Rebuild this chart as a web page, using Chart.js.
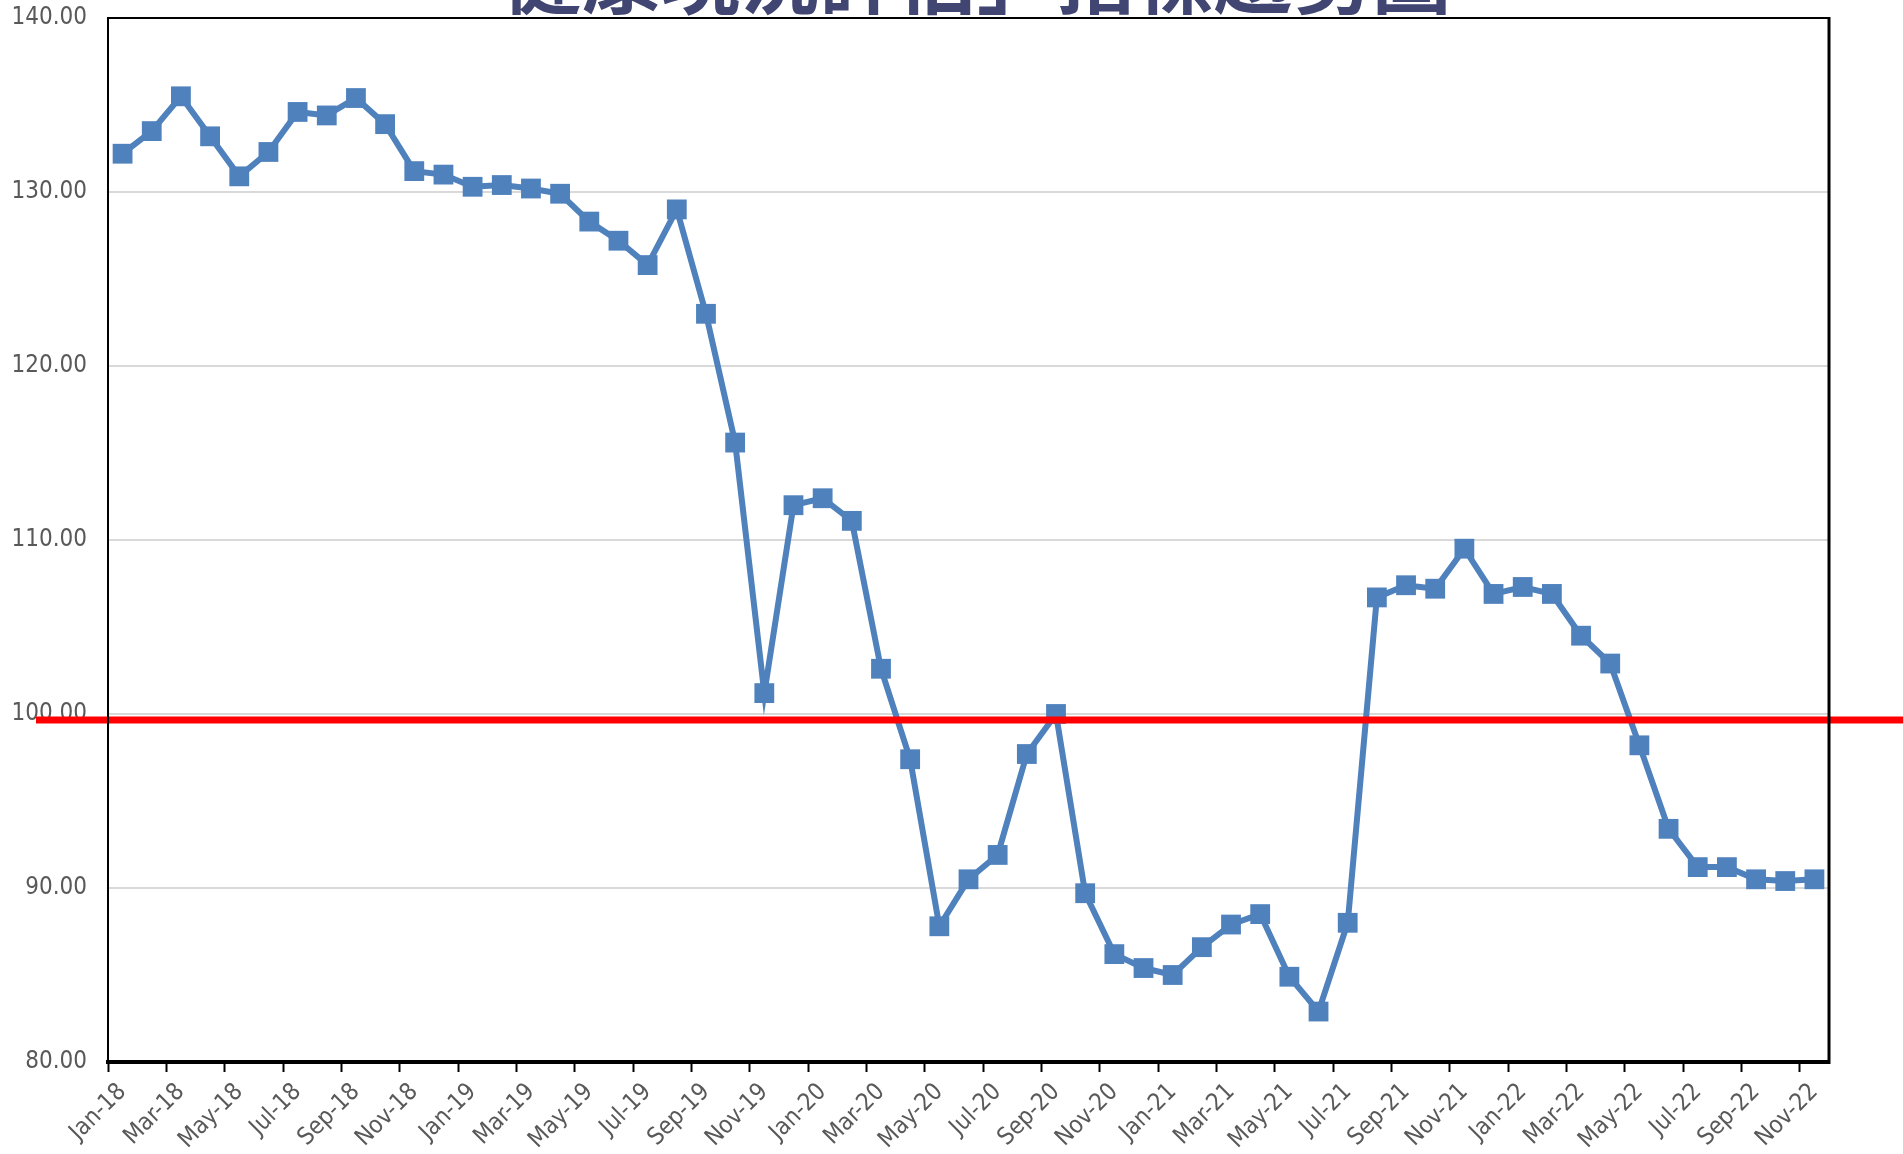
<!DOCTYPE html>
<html>
<head>
<meta charset="utf-8">
<script src="https://cdn.jsdelivr.net/npm/chart.js@4.4.1/dist/chart.umd.min.js"></script>
<style>
  html, body { margin: 0; padding: 0; background: #ffffff; overflow: hidden; }
  #wrap { position: relative; width: 1903px; height: 1154px; }
  #c { position: absolute; left: 0; top: 0; }
  #title {
    position: absolute; left: 0; width: 1875px; top: -66px;
    text-align: center; white-space: nowrap;
    font-family: "Noto Sans CJK TC", "Noto Sans CJK SC", sans-serif;
    font-weight: 700; font-size: 79px; line-height: 79px; color: #404571;
  }
</style>
</head>
<body>
<div id="wrap">
  <canvas id="c" width="1903" height="1154"></canvas>
  <div id="title"></div>
</div>
<script>
const titleText = '「健康現況評估」指標趨勢圖';
const months = [
  'Jan-18','Feb-18','Mar-18','Apr-18','May-18','Jun-18','Jul-18','Aug-18','Sep-18','Oct-18','Nov-18','Dec-18',
  'Jan-19','Feb-19','Mar-19','Apr-19','May-19','Jun-19','Jul-19','Aug-19','Sep-19','Oct-19','Nov-19','Dec-19',
  'Jan-20','Feb-20','Mar-20','Apr-20','May-20','Jun-20','Jul-20','Aug-20','Sep-20','Oct-20','Nov-20','Dec-20',
  'Jan-21','Feb-21','Mar-21','Apr-21','May-21','Jun-21','Jul-21','Aug-21','Sep-21','Oct-21','Nov-21','Dec-21',
  'Jan-22','Feb-22','Mar-22','Apr-22','May-22','Jun-22','Jul-22','Aug-22','Sep-22','Oct-22','Nov-22'
];
const indexValues = [
  132.2, 133.5, 135.5, 133.2, 130.9, 132.3, 134.6, 134.4, 135.4, 133.9, 131.2, 131.0,
  130.3, 130.4, 130.2, 129.9, 128.3, 127.2, 125.8, 129.0, 123.0, 115.6, 101.2, 112.0,
  112.4, 111.1, 102.6, 97.4, 87.8, 90.5, 91.9, 97.7, 100.0, 89.7, 86.2, 85.4,
  85.0, 86.6, 87.9, 88.5, 84.9, 82.9, 88.0, 106.7, 107.4, 107.2, 109.5, 106.9,
  107.3, 106.9, 104.5, 102.9, 98.2, 93.4, 91.2, 91.2, 90.5, 90.4, 90.5
];
const yMin = 80, yMax = 140, yStep = 10;
const refLineValue = 99.65;

document.getElementById('title').textContent = titleText;

const frameAndRefLine = {
  id: 'frameAndRefLine',
  afterDatasetsDraw(chart) {
    const ctx = chart.ctx;
    const a = chart.chartArea;
    const yScale = chart.scales.y;
    const yRef = yScale.getPixelForValue(refLineValue);
    ctx.save();
    ctx.strokeStyle = '#ff0000';
    ctx.lineWidth = 7;
    ctx.beginPath();
    ctx.moveTo(36, yRef);
    ctx.lineTo(chart.width, yRef);
    ctx.stroke();
    ctx.strokeStyle = '#000000';
    ctx.lineWidth = 2;
    ctx.beginPath();
    ctx.moveTo(a.left, a.top);
    ctx.lineTo(a.right, a.top);
    ctx.stroke();
    ctx.lineWidth = 3;
    ctx.beginPath();
    ctx.moveTo(a.right, a.top - 1);
    ctx.lineTo(a.right, a.bottom + 2);
    ctx.stroke();
    ctx.lineWidth = 2;
    ctx.beginPath();
    ctx.moveTo(a.left, a.top - 1);
    ctx.lineTo(a.left, a.bottom);
    ctx.stroke();
    ctx.restore();
  }
};

const labelFont = { family: '"DejaVu Sans Condensed", "DejaVu Sans", sans-serif', size: 24 };

new Chart(document.getElementById('c'), {
  type: 'line',
  data: {
    labels: months,
    datasets: [{
      data: indexValues,
      borderColor: '#4f81bd',
      backgroundColor: '#4f81bd',
      borderWidth: 6,
      pointStyle: 'rect',
      pointRadius: 14,
      pointBackgroundColor: '#4f81bd',
      pointBorderWidth: 0,
      tension: 0,
      fill: false
    }]
  },
  options: {
    responsive: false,
    animation: false,
    events: [],
    layout: { padding: { top: 18, right: 74, left: 0, bottom: 0 } },
    plugins: { legend: { display: false }, tooltip: { enabled: false }, title: { display: false } },
    scales: {
      x: {
        type: 'category',
        offset: true,
        grid: {
          offset: true,
          drawOnChartArea: false,
          drawTicks: true,
          tickLength: 10,
          tickWidth: 2,
          tickColor: (ctx) => (ctx.index % 2 === 0 ? '#000000' : 'rgba(0,0,0,0)')
        },
        border: { display: true, color: '#000000', width: 4 },
        ticks: {
          autoSkip: false,
          maxRotation: 45,
          minRotation: 45,
          padding: 6,
          font: labelFont,
          color: '#595959',
          callback: (v, i) => (i % 2 === 0 ? months[i] : '')
        },
        afterFit: (s) => { s.height = 92; s.paddingTop = 0; }
      },
      y: {
        min: yMin,
        max: yMax,
        grid: { color: '#d9d9d9', lineWidth: 2, drawTicks: false },
        border: { display: true, color: '#000000', width: 2 },
        ticks: {
          stepSize: yStep,
          padding: 21,
          font: labelFont,
          color: '#595959',
          callback: (v) => Number(v).toFixed(2)
        },
        afterFit: (s) => { s.width = 108; s.paddingTop = 0; s.paddingBottom = 0; }
      }
    }
  },
  plugins: [frameAndRefLine]
});
</script>
</body>
</html>
